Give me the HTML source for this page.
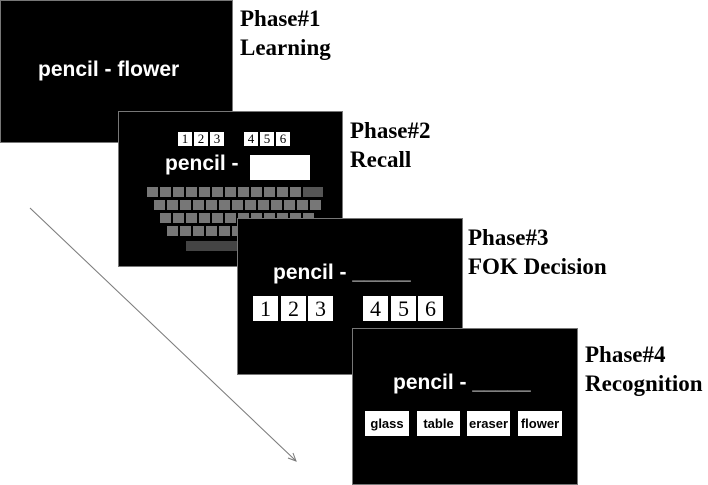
<!DOCTYPE html><html><head><style>
body{margin:0;width:708px;height:485px;background:#fff;position:relative;overflow:hidden;font-family:"Liberation Sans",sans-serif}
.b{position:absolute;background:#000;border:1px solid #777;box-sizing:border-box}
.l{position:absolute;font:bold 23px/29px "Liberation Serif",serif;color:#000;white-space:nowrap}
.t{position:absolute;color:#fff;font-weight:bold;white-space:nowrap}
.n{position:absolute;background:#fff;color:#000;font-family:"Liberation Serif",serif;text-align:center;box-sizing:border-box}
.w{position:absolute;background:#fff;color:#000;font-weight:bold;font-size:13px;text-align:center;top:411px;height:25px;line-height:25px}
.kr{position:absolute;display:flex;gap:2px;height:10px}
.kr i{display:block;width:11px;height:10px;background:#777}
</style></head><body>
<svg style="position:absolute;left:0;top:0" width="708" height="485"><line x1="30" y1="208" x2="295" y2="460" stroke="#777" stroke-width="1"/><path d="M288 458 L296 461 L293 453" fill="none" stroke="#777"/></svg>
<div class="b" style="left:0;top:0;width:233px;height:143px"></div>
<div class="t" style="left:38px;top:58px;font-size:21px">pencil - flower</div>
<div class="l" style="left:240px;top:4px">Phase#1<br>Learning</div>
<div class="b" style="left:118px;top:111px;width:225px;height:156px"></div>
<div class="n" style="left:178px;top:132px;width:14px;height:14px;font-size:13px;line-height:14px">1</div>
<div class="n" style="left:194px;top:132px;width:14px;height:14px;font-size:13px;line-height:14px">2</div>
<div class="n" style="left:210px;top:132px;width:14px;height:14px;font-size:13px;line-height:14px">3</div>
<div class="n" style="left:244px;top:132px;width:14px;height:14px;font-size:13px;line-height:14px">4</div>
<div class="n" style="left:260px;top:132px;width:14px;height:14px;font-size:13px;line-height:14px">5</div>
<div class="n" style="left:276px;top:132px;width:14px;height:14px;font-size:13px;line-height:14px">6</div>
<div class="t" style="left:165px;top:152px;font-size:21px">pencil -</div>
<div style="position:absolute;left:250px;top:155px;width:60px;height:25px;background:#fff"></div>
<div class="kr" style="left:147px;top:187px"><i></i><i></i><i></i><i></i><i></i><i></i><i></i><i></i><i></i><i></i><i></i><i></i><i style="width:20px;background:#555"></i></div>
<div class="kr" style="left:154px;top:200px"><i></i><i></i><i></i><i></i><i></i><i></i><i></i><i></i><i></i><i></i><i></i><i></i><i></i></div>
<div class="kr" style="left:160px;top:213px"><i></i><i></i><i></i><i></i><i></i><i></i><i></i><i></i><i></i><i></i><i></i><i></i></div>
<div class="kr" style="left:167px;top:226px"><i></i><i></i><i></i><i></i><i></i><i></i><i></i><i></i><i></i><i></i><i></i></div>
<div style="position:absolute;left:186px;top:241px;width:70px;height:10px;background:#444"></div>
<div class="l" style="left:350px;top:116px">Phase#2<br>Recall</div>
<div class="b" style="left:237px;top:218px;width:226px;height:157px"></div>
<div class="t" style="left:273px;top:261px;font-size:21px">pencil - _____</div>
<div class="n" style="left:253px;top:296px;width:25px;height:25px;font-size:22px;line-height:25px">1</div>
<div class="n" style="left:281px;top:296px;width:25px;height:25px;font-size:22px;line-height:25px">2</div>
<div class="n" style="left:308px;top:296px;width:25px;height:25px;font-size:22px;line-height:25px">3</div>
<div class="n" style="left:363px;top:296px;width:25px;height:25px;font-size:22px;line-height:25px">4</div>
<div class="n" style="left:391px;top:296px;width:25px;height:25px;font-size:22px;line-height:25px">5</div>
<div class="n" style="left:418px;top:296px;width:25px;height:25px;font-size:22px;line-height:25px">6</div>
<div class="l" style="left:468px;top:223px">Phase#3<br>FOK Decision</div>
<div class="b" style="left:352px;top:328px;width:226px;height:157px"></div>
<div class="t" style="left:393px;top:371px;font-size:21px">pencil - _____</div>
<div class="w" style="left:365px;width:44px">glass</div>
<div class="w" style="left:417px;width:43px">table</div>
<div class="w" style="left:467px;width:43px">eraser</div>
<div class="w" style="left:518px;width:44px">flower</div>
<div class="l" style="left:585px;top:340px">Phase#4<br>Recognition</div>
</body></html>
